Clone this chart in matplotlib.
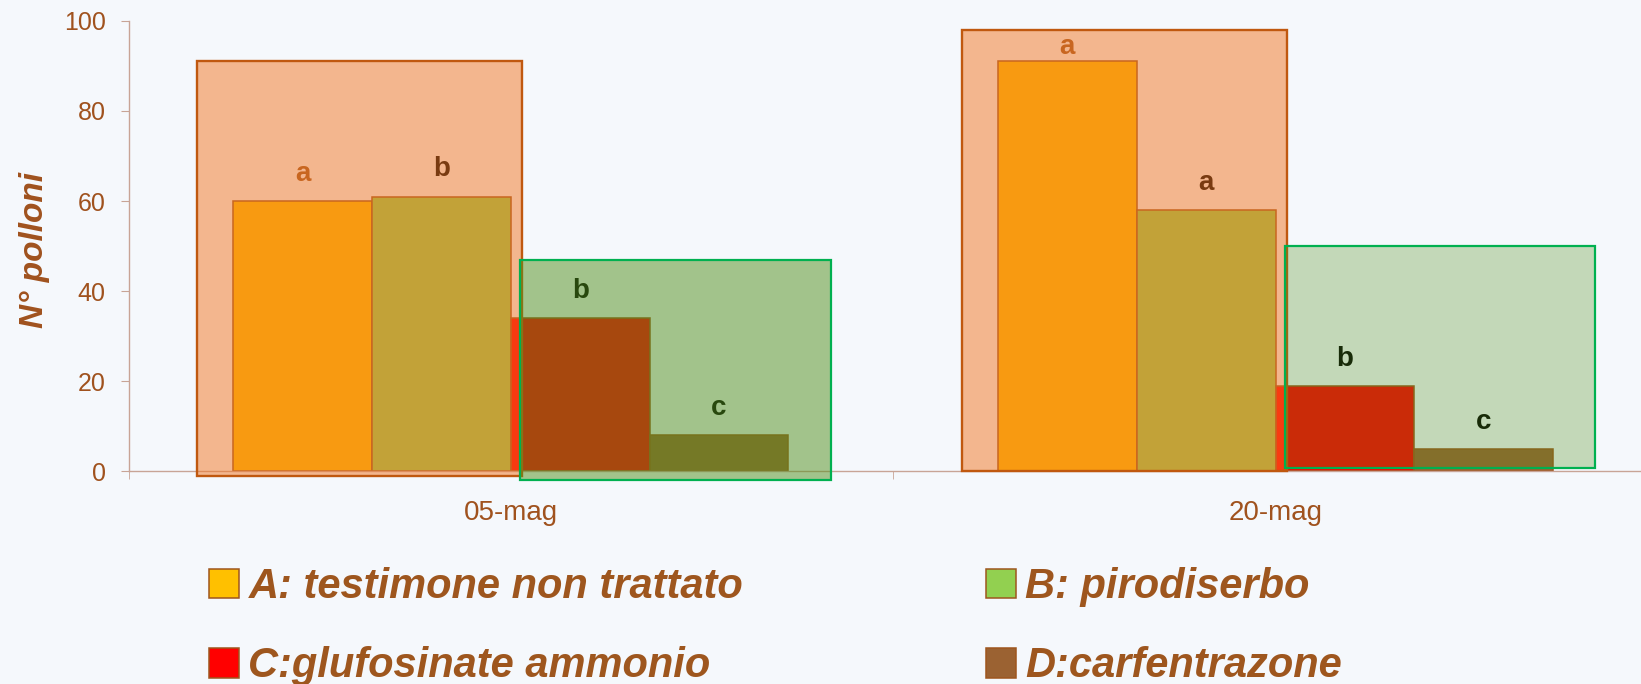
import matplotlib.pyplot as plt
import numpy as np

# data
groups = ["05-mag", "20-mag"]
treatments = [
    "A: testimone non trattato",
    "B: pirodiserbo",
    "C:glufosinate ammonio",
    "D:carfentrazone",
]
colors = ["#FFC000", "#92D050", "#FF0000", "#9B6232"]
polloni_a = [60, 91]
polloni_b = [61, 58]
polloni_c = [34, 19]
polloni_d = [8, 5]
letters_a = ["a", "a"]
letters_b = ["b", "a"]
letters_c = ["b", "b"]
letters_d = ["c", "c"]
# highlight boxes around A+B and C+D
box_ab_top = [91, 98]
box_ab_bottom = [-1.2, 0.0]
box_cd_top = [47, 50]
box_cd_bottom = [-2.0, 0.7]
box_cd_alpha = [0.5, 0.3]

BG = "#F5F8FC"
BROWN = "#9E561E"
TICK_C = "#A0521E"
SPINE_C = "#C8A496"

fig = plt.figure(figsize=(16.41, 6.84), dpi=100, facecolor=BG)
ax = fig.add_axes([0.0784, 0.3114, 0.9216, 0.6579], facecolor=BG)

x = np.arange(len(groups))
w = 0.1815
series = [polloni_a, polloni_b, polloni_c, polloni_d]
letters = [letters_a, letters_b, letters_c, letters_d]

handles = []
for i, (vals, lab, col, let) in enumerate(zip(series, treatments, colors, letters)):
    pos = x + (i - 1.5) * w
    h = ax.bar(pos, vals, w, color=col, edgecolor=BROWN, lw=1.1, label=lab, zorder=2)
    handles.append(h)
    tops = box_ab_top if i < 2 else box_cd_top
    for p, v, t, top in zip(pos, vals, let, tops):
        ax.text(
            p,
            min(v + 6, top - 3.8),
            t,
            ha="center",
            va="center",
            fontsize=20,
            fontweight="bold",
            family="Liberation Sans",
            color=BROWN if i == 0 else "black",
            zorder=2.5,
        )

# overlays
ax.bar(
    x - 0.41,
    np.subtract(box_ab_top, box_ab_bottom),
    0.425,
    bottom=box_ab_bottom,
    align="edge",
    color=(243 / 255, 118 / 255, 34 / 255, 0.5),
    edgecolor="#C0580F",
    lw=1.7,
    zorder=3,
    clip_on=False,
)
ax.bar(
    x + 0.012,
    np.subtract(box_cd_top, box_cd_bottom),
    0.406,
    bottom=box_cd_bottom,
    align="edge",
    color=[(81 / 255, 144 / 255, 28 / 255, a) for a in box_cd_alpha],
    edgecolor="#00B050",
    lw=1.6,
    zorder=4,
    clip_on=False,
)

for s in ["top", "right"]:
    ax.spines[s].set_visible(False)
for s in ["left", "bottom"]:
    ax.spines[s].set_color(SPINE_C)
    ax.spines[s].set_linewidth(1.0)

ax.set_yticks(np.arange(0, 101, 20))
ax.tick_params(axis="y", labelsize=18, labelcolor=TICK_C, color=SPINE_C, length=6, pad=10.5)
for lb in ax.get_yticklabels():
    lb.set_family("Liberation Sans")
ax.set_xticks(x)
ax.set_xticklabels(groups, family="Liberation Sans")
ax.set_xticks([-0.5, 0.5, 1.5], minor=True)
ax.tick_params(axis="x", which="major", length=0, pad=21, labelsize=20, labelcolor=TICK_C)
ax.tick_params(axis="x", which="minor", length=6, color=SPINE_C)
ax.set_xlim(-0.5, 1.478)
ax.set_ylim(0, 100)

fig.text(
    35 / 1641,
    (684 - 250) / 684,
    "N° polloni",
    rotation=90,
    ha="center",
    va="center",
    fontsize=24,
    fontweight="bold",
    style="italic",
    family="Liberation Sans",
    color=TICK_C,
)

order = [0, 2, 1, 3]
leg = fig.legend(
    [handles[k] for k in order],
    [treatments[k] for k in order],
    ncol=2,
    loc="upper left",
    bbox_to_anchor=(0.1274, 0.171),
    frameon=False,
    prop=dict(family="Liberation Sans", weight="bold", style="italic", size=30),
    labelcolor=BROWN,
    handlelength=0.725,
    handleheight=0.725,
    handletextpad=0.22,
    columnspacing=5.82,
    labelspacing=0.945,
    borderpad=0,
    borderaxespad=0,
)

fig.savefig("out.png", dpi=100, facecolor=BG)
